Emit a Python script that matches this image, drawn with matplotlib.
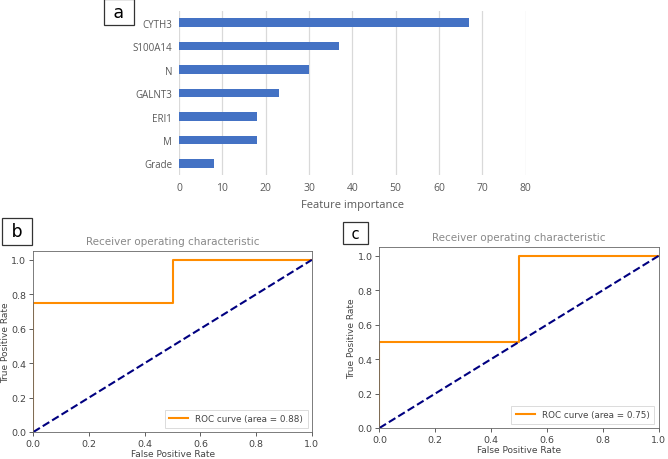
import numpy as np
import matplotlib
matplotlib.use("Agg")
import matplotlib.pyplot as plt

# feature importance (panel a)
features = ["CYTH3", "S100A14", "N", "GALNT3", "ERI1", "M", "Grade"]
importance = [67, 37, 30, 23, 18, 18, 8]
imp_ticks = [0, 10, 20, 30, 40, 50, 60, 70, 80]

# ROC curves (panels b, c)
fpr_b = [0.0, 0.0, 0.5, 0.5, 1.0]
tpr_b = [0.0, 0.75, 0.75, 1.0, 1.0]
auc_b = 0.88
fpr_c = [0.0, 0.0, 0.5, 0.5, 1.0]
tpr_c = [0.0, 0.5, 0.5, 1.0, 1.0]
auc_c = 0.75
roc_ticks = [0.0, 0.2, 0.4, 0.6, 0.8, 1.0]

fig = plt.figure(figsize=(6.68, 4.6), dpi=100)

# ---- panel a
ax = fig.add_axes([0.268, 0.617, 0.519, 0.357])
ypos = np.arange(len(features))
ax.barh(ypos, importance, height=0.36, color="#4472C4", zorder=3)
ax.set_yticks(ypos)
ax.set_yticklabels(features, family="Open Sans", fontsize=7, color="#595959")
ax.set_ylim(len(features) - 0.5, -0.5)
ax.set_xlim(0, 80)
ax.set_xticks(imp_ticks)
ax.set_xticklabels([str(t) for t in imp_ticks], family="Open Sans", fontsize=7.5, color="#595959")
ax.grid(axis="x", color="#d9d9d9", linewidth=0.9, zorder=0)
for s in ax.spines.values():
    s.set_visible(False)
ax.tick_params(length=0, pad=5)
ax.set_xlabel("Feature importance", family="Open Sans", fontsize=8, color="#595959", labelpad=4)

# ---- panels b, c
def roc_panel(rect, fpr, tpr, auc, ylab_x):
    a = fig.add_axes(rect)
    a.plot(fpr, tpr, color="darkorange", lw=1.5,
           label="ROC curve (area = %0.2f)" % auc)
    a.plot([0, 1], [0, 1], color="navy", lw=1.5, linestyle="--")
    a.set_xlim(0.0, 1.0)
    a.set_ylim(0.0, 1.05)
    a.set_xticks(roc_ticks)
    a.set_yticks(roc_ticks)
    a.tick_params(labelsize=6.8, labelcolor="#444444", length=3, width=0.6, pad=2, color="#444444")
    a.set_xlabel("False Positive Rate", fontsize=6.5, color="#444444", labelpad=1)
    a.set_ylabel("True Positive Rate", fontsize=6.5, color="#444444")
    a.yaxis.set_label_coords(ylab_x, 0.5)
    a.set_title("Receiver operating characteristic", fontsize=7.5, color="#888888", pad=5)
    for s in a.spines.values():
        s.set_linewidth(0.6)
        s.set_color("#666666")
    leg = a.legend(loc="lower right", fontsize=6.3, frameon=True, fancybox=False,
                   handlelength=2.2, borderpad=0.5)
    leg.get_frame().set_linewidth(0.6)
    for t in leg.get_texts():
        t.set_color("#444444")
    return a

roc_panel([0.0499, 0.0587, 0.417, 0.393], fpr_b, tpr_b, auc_b, -0.085)
roc_panel([0.568, 0.0674, 0.418, 0.393], fpr_c, tpr_c, auc_c, -0.085)

# panel letters
box = dict(boxstyle="square,pad=0.25", facecolor="white", edgecolor="#333333", linewidth=0.9)
fig.text(0.178, 0.972, " a ", fontsize=12.5, ha="center", va="center", bbox=box)
fig.text(0.0255, 0.495, " b ", fontsize=12.5, ha="center", va="center", bbox=box)
fig.text(0.532, 0.491, " c ", fontsize=10.5, ha="center", va="center", bbox=box)

fig.savefig("out.png", dpi=100)
